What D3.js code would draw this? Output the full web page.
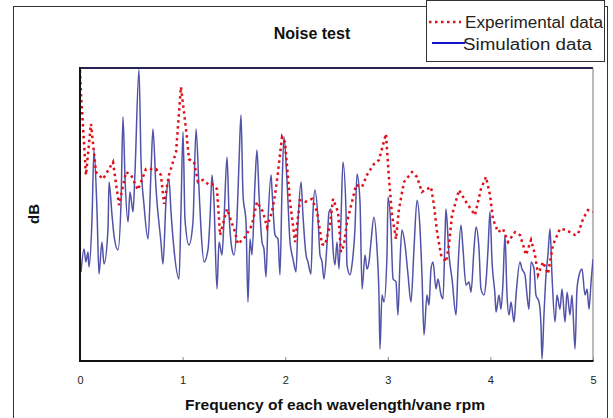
<!DOCTYPE html>
<html><head><meta charset="utf-8">
<script src="https://cdn.jsdelivr.net/npm/d3@7"></script>
<style>html,body{margin:0;padding:0;background:#fff;} svg{display:block;}</style>
</head><body>
<script>
const chartTitle = "Noise test";
const xTitle = "Frequency of each wavelength/vane rpm";
const yTitle = "dB";
const seriesNames = ["Experimental data", "Simulation data"];
const xTicks = [0, 1, 2, 3, 4, 5];

const expFreq = [0.000,0.010,0.019,0.058,0.107,0.156,0.224,0.322,0.380,0.448,0.497,0.565,0.643,0.741,0.789,0.819,0.867,0.936,0.984,1.033,1.062,1.111,1.150,1.199,1.257,1.287,1.335,1.365,1.433,1.511,1.540,1.608,1.676,1.725,1.784,1.823,1.871,1.901,1.930,1.969,1.998,2.047,2.096,2.144,2.193,2.261,2.310,2.359,2.388,2.437,2.466,2.515,2.544,2.573,2.602,2.651,2.690,2.749,2.797,2.865,2.914,2.943,2.982,2.992,3.012,3.041,3.080,3.109,3.158,3.236,3.285,3.333,3.421,3.450,3.480,3.519,3.567,3.596,3.626,3.694,3.762,3.782,3.850,3.879,3.908,3.957,3.996,4.025,4.074,4.123,4.172,4.240,4.288,4.318,4.347,4.396,4.435,4.464,4.513,4.561,4.610,4.678,4.737,4.825,4.854,4.903,4.951,5.000];
const expLevel = [99.3,90.8,86.0,63.5,80.9,64.5,62.1,67.9,53.2,64.5,63.5,58.4,65.5,65.5,63.5,53.6,63.5,71.3,93.5,79.2,68.9,67.9,61.1,61.8,60.1,60.4,58.7,43.0,51.9,44.0,39.9,42.3,46.4,54.3,50.9,45.7,50.9,56.7,64.5,76.5,74.7,54.3,40.6,54.9,54.3,55.3,50.9,39.9,39.6,46.4,55.3,50.9,37.2,39.6,47.4,54.3,60.1,59.4,63.5,67.2,68.6,72.4,77.5,72.4,62.1,49.8,41.6,51.9,61.1,64.5,62.8,57.7,59.4,53.2,44.0,36.2,33.8,39.6,49.8,58.4,54.3,53.2,49.8,54.3,58.7,62.8,56.7,48.5,44.0,45.1,40.6,44.0,43.0,39.6,36.2,41.3,36.2,29.4,33.8,29.7,39.6,45.1,44.7,43.0,43.3,48.5,51.5,50.9];

const simFreq = [0.010,0.039,0.058,0.078,0.088,0.117,0.136,0.166,0.185,0.214,0.234,0.273,0.283,0.312,0.331,0.370,0.400,0.419,0.439,0.468,0.487,0.517,0.536,0.575,0.595,0.624,0.663,0.692,0.711,0.741,0.789,0.809,0.838,0.867,0.887,0.916,0.965,0.984,1.004,1.023,1.062,1.101,1.131,1.160,1.179,1.209,1.248,1.267,1.287,1.306,1.335,1.355,1.384,1.404,1.433,1.452,1.481,1.501,1.530,1.550,1.569,1.589,1.618,1.637,1.657,1.676,1.706,1.725,1.745,1.774,1.793,1.813,1.832,1.862,1.871,1.901,1.930,1.949,1.969,1.988,2.018,2.047,2.076,2.105,2.125,2.154,2.173,2.203,2.222,2.251,2.271,2.290,2.320,2.339,2.359,2.378,2.407,2.427,2.446,2.466,2.485,2.505,2.524,2.544,2.563,2.593,2.602,2.632,2.651,2.680,2.700,2.729,2.749,2.778,2.797,2.817,2.836,2.865,2.895,2.914,2.924,2.943,2.963,2.992,3.002,3.031,3.051,3.080,3.099,3.119,3.138,3.168,3.197,3.226,3.255,3.285,3.314,3.333,3.353,3.382,3.402,3.421,3.441,3.470,3.489,3.519,3.538,3.558,3.567,3.596,3.626,3.665,3.684,3.713,3.733,3.762,3.791,3.811,3.840,3.860,3.889,3.908,3.938,3.957,3.977,3.996,4.016,4.045,4.055,4.084,4.103,4.123,4.142,4.162,4.181,4.201,4.230,4.250,4.288,4.308,4.337,4.357,4.376,4.396,4.425,4.444,4.474,4.493,4.503,4.522,4.542,4.561,4.581,4.600,4.630,4.649,4.678,4.698,4.727,4.747,4.776,4.795,4.825,4.844,4.873,4.893,4.922,4.942,4.961,4.981,5.000];
const simLevel = [30.4,38.2,33.8,37.2,32.1,48.5,72.0,50.9,29.7,40.6,33.1,45.1,61.1,49.8,43.0,37.9,54.3,83.3,62.1,47.4,57.7,50.9,64.5,99.5,67.9,53.2,41.6,64.5,79.2,58.7,40.6,33.1,54.3,62.1,50.9,38.2,28.0,50.9,78.2,48.5,39.6,47.4,79.2,58.7,45.1,33.8,38.2,48.5,63.5,54.3,24.6,40.6,36.2,48.5,69.6,50.9,38.2,36.2,48.5,67.9,84.0,56.7,47.4,20.1,41.6,36.2,61.1,72.0,56.7,40.6,38.2,28.7,47.4,63.5,58.7,43.0,41.6,29.4,58.7,76.5,61.1,40.6,34.8,30.4,47.4,61.1,49.8,36.2,33.8,29.7,50.9,58.4,48.5,36.2,33.8,28.0,39.6,50.9,51.9,38.2,32.8,40.6,31.4,48.5,67.9,50.9,32.8,29.4,32.8,45.1,63.8,54.3,24.6,36.2,31.4,33.8,40.6,49.1,38.2,22.5,4.1,22.5,20.1,36.2,56.0,45.1,28.0,27.0,15.7,33.8,44.7,39.6,29.4,20.1,38.2,54.9,45.1,29.4,8.9,22.5,19.1,31.4,33.8,24.6,28.0,22.5,21.2,43.0,51.9,36.2,28.0,15.7,31.4,46.4,38.2,25.9,27.0,23.5,38.2,45.7,38.2,24.6,22.5,27.0,38.2,50.9,33.8,22.5,16.7,22.5,17.7,27.0,43.0,22.5,15.7,20.1,13.3,22.5,33.8,31.4,29.4,22.5,17.7,33.8,31.4,22.5,20.1,12.3,0.7,15.7,29.4,36.2,45.1,29.4,13.3,22.5,17.7,24.6,13.3,23.5,15.7,22.5,4.1,24.6,30.4,31.4,22.5,24.6,17.7,27.0,34.8];

const W = 613, H = 418;
const FONT = "'Liberation Sans', Arial, sans-serif";
const svg = d3.select("body").append("svg").attr("width", W).attr("height", H);
const P = {left: 80, top: 68, right: 593, bottom: 361};
const x = d3.scaleLinear().domain([0, 5]).range([P.left, P.right]);
const y = d3.scaleLinear().domain([0, 100]).range([P.bottom, P.top]);

svg.append("rect").attr("x", 13.5).attr("y", 6.5).attr("width", 594).attr("height", 430)
  .attr("fill", "#fff").attr("stroke", "#333").attr("stroke-width", 1);

svg.append("text").attr("x", 312).attr("y", 39).attr("text-anchor", "middle")
  .attr("font-family", FONT).attr("font-weight", "bold").attr("font-size", 16)
  .attr("fill", "#111").text(chartTitle);

svg.append("line").attr("x1", P.left).attr("x2", P.right).attr("y1", P.top).attr("y2", P.top)
  .attr("stroke", "#24244e").attr("stroke-width", 2);
svg.append("line").attr("x1", P.right).attr("x2", P.right).attr("y1", P.top).attr("y2", P.bottom)
  .attr("stroke", "#777").attr("stroke-width", 1);

svg.append("clipPath").attr("id", "clip").append("rect")
  .attr("x", P.left).attr("y", P.top - 1).attr("width", P.right - P.left).attr("height", P.bottom - P.top + 1);

const simLine = d3.line().x(d => x(d[0])).y(d => y(d[1])).curve(d3.curveMonotoneX);
const expLine = d3.line().x(d => x(d[0])).y(d => y(d[1]));

svg.append("path").datum(d3.zip(simFreq, simLevel))
  .attr("clip-path", "url(#clip)")
  .attr("d", simLine).attr("fill", "none").attr("stroke", "#5252a8").attr("stroke-width", 1.5)
  .attr("stroke-linejoin", "round");

svg.append("path").datum(d3.zip(expFreq, expLevel))
  .attr("clip-path", "url(#clip)")
  .attr("d", expLine).attr("fill", "none").attr("stroke", "#e01018").attr("stroke-width", 2.5)
  .attr("stroke-dasharray", "2.5,3.5");

const xAxis = d3.axisBottom(x).tickValues(xTicks).tickSize(-4).tickPadding(15).tickFormat(d3.format("d"));
const gx = svg.append("g").attr("transform", `translate(0,${P.bottom})`).call(xAxis);
gx.select(".domain").remove();
gx.selectAll(".tick line").attr("stroke", "#888");
gx.selectAll(".tick text").attr("font-family", FONT).attr("font-size", 11).attr("fill", "#222");

svg.append("line").attr("x1", P.left).attr("x2", P.left).attr("y1", P.top - 1).attr("y2", P.bottom + 1)
  .attr("stroke", "#111").attr("stroke-width", 2);
svg.append("line").attr("x1", P.left - 1).attr("x2", P.right + 0.5).attr("y1", P.bottom).attr("y2", P.bottom)
  .attr("stroke", "#111").attr("stroke-width", 2);

svg.append("text").attr("x", 335).attr("y", 410).attr("text-anchor", "middle")
  .attr("font-family", FONT).attr("font-weight", "bold").attr("font-size", 15)
  .attr("textLength", 300).attr("lengthAdjust", "spacingAndGlyphs")
  .attr("fill", "#111").text(xTitle);
svg.append("text").attr("transform", "translate(39,214) rotate(-90)").attr("text-anchor", "middle")
  .attr("font-family", FONT).attr("font-weight", "bold").attr("font-size", 15)
  .attr("fill", "#111").text(yTitle);

const lg = svg.append("g");
lg.append("rect").attr("x", 426.5).attr("y", 0.5).attr("width", 178).attr("height", 61)
  .attr("fill", "#fff").attr("stroke", "#333").attr("stroke-width", 1);
lg.append("line").attr("x1", 429).attr("x2", 461).attr("y1", 22).attr("y2", 22)
  .attr("stroke", "#e01018").attr("stroke-width", 2.5).attr("stroke-dasharray", "2.5,3.5");
lg.append("line").attr("x1", 432).attr("x2", 465).attr("y1", 43).attr("y2", 43)
  .attr("stroke", "#1414c8").attr("stroke-width", 2);
lg.append("text").attr("x", 465).attr("y", 28).attr("font-family", FONT).attr("font-size", 16)
  .attr("textLength", 138).attr("lengthAdjust", "spacingAndGlyphs").attr("fill", "#222").text(seriesNames[0]);
lg.append("text").attr("x", 463).attr("y", 50).attr("font-family", FONT).attr("font-size", 16)
  .attr("textLength", 129).attr("lengthAdjust", "spacingAndGlyphs").attr("fill", "#222").text(seriesNames[1]);
</script>
</body></html>
